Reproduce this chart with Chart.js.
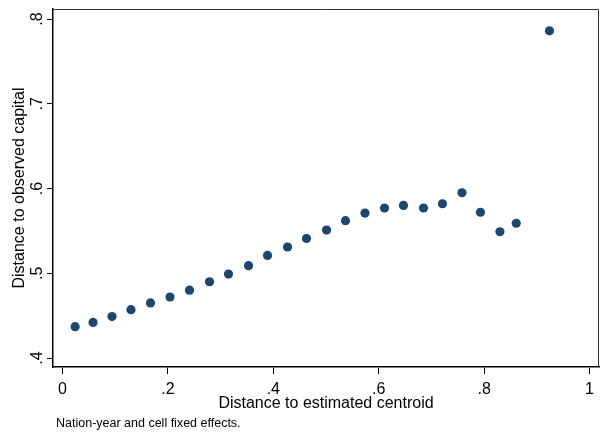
<!DOCTYPE html>
<html>
<head>
<meta charset="utf-8">
<script src="https://cdn.jsdelivr.net/npm/chart.js@4/dist/chart.umd.min.js"></script>
<style>
html,body{margin:0;padding:0;background:#fff;}
#wrap{width:600px;height:432px;position:relative;}
</style>
</head>
<body>
<div id="wrap"><canvas id="c" width="600" height="432"></canvas></div>
<script>
// Data
const xValues = [0.024,0.058,0.094,0.130,0.167,0.204,0.241,0.279,0.315,0.353,0.389,0.427,0.463,0.501,0.537,0.574,0.611,0.647,0.685,0.721,0.758,0.793,0.830,0.861,0.924];
const yValues = [0.437,0.442,0.449,0.457,0.465,0.472,0.480,0.490,0.499,0.509,0.521,0.531,0.541,0.551,0.562,0.571,0.577,0.580,0.577,0.582,0.595,0.572,0.549,0.559,0.786];
const xTickValues = [0, 0.2, 0.4, 0.6, 0.8, 1];
const xTickLabels = ['0', '.2', '.4', '.6', '.8', '1'];
const yTickValues = [0.4, 0.5, 0.6, 0.7, 0.8];
const yTickLabels = ['.4', '.5', '.6', '.7', '.8'];
const xTitle = 'Distance to estimated centroid';
const yTitle = 'Distance to observed capital';
const note = 'Nation-year and cell fixed effects.';

const points = xValues.map((x, i) => ({x: x, y: yValues[i]}));
const FONT = '"Liberation Sans", Arial, sans-serif';

const textPlugin = {
  id: 'stataText',
  afterDraw(chart) {
    const ctx = chart.ctx;
    const ca = chart.chartArea;
    const xs = chart.scales.x, ys = chart.scales.y;
    ctx.save();
    // outer plot box (top and right)
    ctx.strokeStyle = '#333';
    ctx.lineWidth = 1;
    ctx.beginPath();
    ctx.moveTo(ca.left, ca.top + 0.5);
    ctx.lineTo(ca.right - 0.5, ca.top + 0.5);
    ctx.lineTo(ca.right - 0.5, ca.bottom);
    ctx.stroke();

    ctx.fillStyle = '#000';
    // x tick labels
    ctx.font = '16px ' + FONT;
    ctx.textAlign = 'center';
    ctx.textBaseline = 'alphabetic';
    xTickValues.forEach((v, i) => {
      ctx.fillText(xTickLabels[i], xs.getPixelForValue(v), 393.5);
    });
    // y tick labels (rotated)
    yTickValues.forEach((v, i) => {
      ctx.save();
      ctx.translate(41.5, ys.getPixelForValue(v));
      ctx.rotate(-Math.PI / 2);
      ctx.fillText(yTickLabels[i], 0, 0);
      ctx.restore();
    });
    // x title
    ctx.fillText(xTitle, (ca.left + ca.right) / 2, 408);
    // y title
    ctx.save();
    ctx.translate(24.3, (ca.top + ca.bottom) / 2);
    ctx.rotate(-Math.PI / 2);
    ctx.fillText(yTitle, 0, 0);
    ctx.restore();
    // note
    ctx.font = '12.5px ' + FONT;
    ctx.textAlign = 'left';
    ctx.fillText(note, 56, 426.5);
    ctx.restore();
  }
};

new Chart(document.getElementById('c'), {
  type: 'scatter',
  data: {
    datasets: [{
      data: points,
      backgroundColor: '#1a476f',
      borderColor: '#1a476f',
      borderWidth: 0,
      pointRadius: 4.6,
      pointHoverRadius: 4.6
    }]
  },
  options: {
    responsive: false,
    animation: false,
    devicePixelRatio: 1,
    layout: {autoPadding: false, padding: {top: 9, right: 1, left: 0, bottom: 0}},
    plugins: {legend: {display: false}, tooltip: {enabled: false}},
    scales: {
      x: {
        type: 'linear',
        min: -0.018,
        max: 1.018,
        afterBuildTicks: (s) => { s.ticks = xTickValues.map(v => ({value: v})); },
        afterFit: (s) => { s.height = 65; },
        ticks: {display: false},
        grid: {display: true, drawOnChartArea: false, drawTicks: true, tickLength: 7, color: '#000', lineWidth: 1},
        border: {display: true, color: '#000', width: 1.5}
      },
      y: {
        type: 'linear',
        min: 0.3894,
        max: 0.8118,
        afterBuildTicks: (s) => { s.ticks = yTickValues.map(v => ({value: v})); },
        afterFit: (s) => { s.width = 53; },
        ticks: {display: false},
        grid: {display: true, drawOnChartArea: false, drawTicks: true, tickLength: 6, color: '#000', lineWidth: 1},
        border: {display: true, color: '#000', width: 1.5}
      }
    }
  },
  plugins: [textPlugin]
});
</script>
</body>
</html>
